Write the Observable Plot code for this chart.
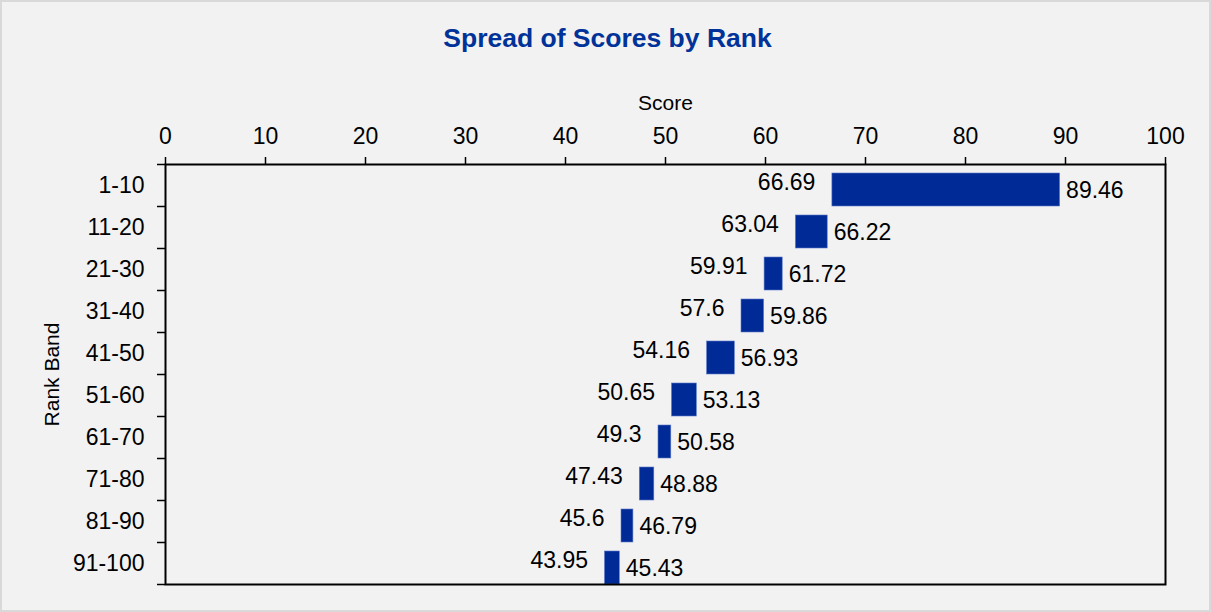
<!DOCTYPE html>
<html>
<head>
<meta charset="utf-8">
<script src="https://cdn.jsdelivr.net/npm/d3@7"></script>
<script src="https://cdn.jsdelivr.net/npm/@observablehq/plot@0.6"></script>
<style>
  html, body { margin: 0; padding: 0; background: #ffffff; }
  #wrap {
    width: 1211px; height: 612px; box-sizing: border-box;
    background: #f2f2f2; border: 2px solid #d9d9d9;
    font-family: "Liberation Sans", Arial, sans-serif;
    position: relative; overflow: hidden;
  }
  #title {
    height: 68px; line-height: 72px; text-align: center;
    font-size: 26.5px; font-weight: bold; color: #003399;
    padding-left: 4px;
  }
  #chart svg { display: block; }
</style>
</head>
<body>
<div id="wrap">
  <div id="title">Spread of Scores by Rank</div>
  <div id="chart"></div>
</div>
<script>
const bands = ["1-10","11-20","21-30","31-40","41-50","51-60","61-70","71-80","81-90","91-100"];
const minScores = [66.69, 63.04, 59.91, 57.6, 54.16, 50.65, 49.3, 47.43, 45.6, 43.95];
const maxScores = [89.46, 66.22, 61.72, 59.86, 56.93, 53.13, 50.58, 48.88, 46.79, 45.43];
const xTicks = [0,10,20,30,40,50,60,70,80,90,100];

const data = bands.map((b, i) => ({band: b, min: minScores[i], max: maxScores[i]}));

const chart = Plot.plot({
  width: 1207,
  height: 540,
  marginTop: 94,
  marginBottom: 26,
  marginLeft: 163,
  marginRight: 44,
  style: {background: "transparent", fontFamily: '"Liberation Sans", Arial, sans-serif', fontSize: "23px", color: "#000"},
  x: {domain: [0, 100]},
  y: {domain: bands, padding: 0},
  marks: [
    Plot.barX(data, {x1: "min", x2: "max", y: "band", fill: "#002a96", stroke: "#5a78c8", strokeWidth: 0.6, insetTop: 9, insetBottom: 0}),
    Plot.text(data, {x: "min", y: "band", text: d => String(d.min), textAnchor: "end", dx: -17, dy: -3, fill: "#000", fontSize: 23}),
    Plot.text(data, {x: "max", y: "band", text: d => String(d.max), textAnchor: "start", dx: 6, dy: 5, fill: "#000", fontSize: 23}),
    Plot.axisX({anchor: "top", ticks: xTicks, tickSize: 8, tickPadding: 13, label: null, fontSize: 23, strokeWidth: 1.5}),
    Plot.axisY({anchor: "left", tickSize: 0, tickPadding: 21, label: null, fontSize: 23}),
    Plot.axisY({anchor: "left", tickSize: 8, dy: 21, tickFormat: () => "", label: null, strokeWidth: 1.5}),
    Plot.axisY({anchor: "left", ticks: [bands[0]], tickSize: 8, dy: -21, tickFormat: () => "", label: null, strokeWidth: 1.5}),
    Plot.text(["Score"], {frameAnchor: "top", dy: -69, fontSize: 21, fill: "#000"}),
    Plot.text(["Rank Band"], {frameAnchor: "left", textAnchor: "middle", rotate: -90, dx: -113, fontSize: 21, fill: "#000"}),
    Plot.frame({stroke: "#000", strokeWidth: 2})
  ]
});
document.getElementById("chart").appendChild(chart);
</script>
</body>
</html>
